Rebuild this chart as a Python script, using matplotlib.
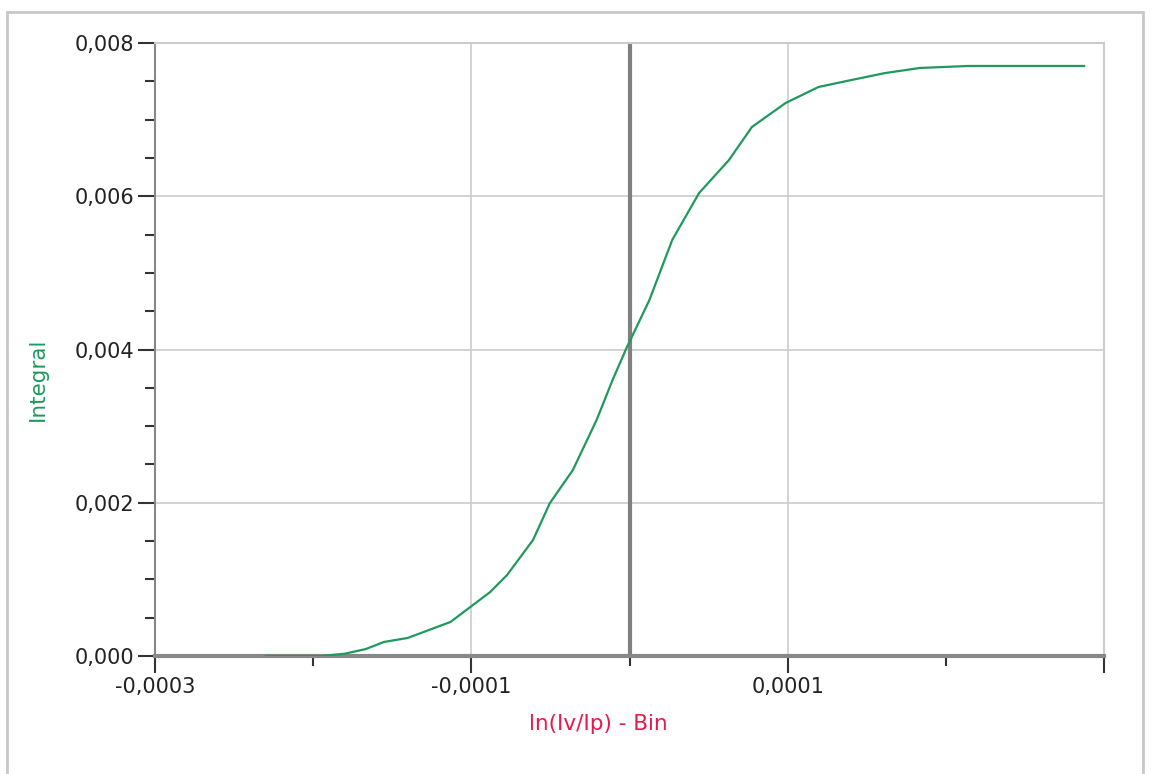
import matplotlib
matplotlib.use("Agg")
import matplotlib.pyplot as plt
import matplotlib.ticker as ticker
from matplotlib.patches import Rectangle

# curve: x in units of 1e-4, y in units of 1e-3
x_e4 = [-2.30, -1.95, -1.80, -1.667, -1.553, -1.403, -1.302, -1.132, -1.006, -0.881,
        -0.774, -0.610, -0.503, -0.358, -0.208, -0.107, -0.019, 0.126, 0.270, 0.440,
        0.629, 0.774, 0.987, 1.195, 1.403, 1.616, 1.836, 2.138, 2.874]
y_e3 = [0.0, 0.0, 0.03, 0.091, 0.183, 0.235, 0.313, 0.444, 0.640, 0.835,
        1.057, 1.514, 1.997, 2.427, 3.080, 3.602, 4.019, 4.646, 5.429, 6.042,
        6.473, 6.904, 7.217, 7.426, 7.517, 7.608, 7.674, 7.700, 7.700]

x_vals = [v * 1e-4 for v in x_e4]
y_vals = [v * 1e-3 for v in y_e3]

x_label = "ln(Iv/Ip) - Bin"
y_label = "Integral"

line_green = "#1f9a5c"
label_red = "#e8194c"

plt.rcParams['font.family'] = ['DejaVu Sans']

fig = plt.figure(figsize=(11.53, 7.74), dpi=100)
ax = fig.add_axes([155/1153, 1 - 656/774, (1104 - 155)/1153, (656 - 43)/774])

# outer frame of the window
fig.patches.append(Rectangle((7/1153, -0.01), (1143 - 7)/1153, 1 - 12/774 + 0.01,
                             transform=fig.transFigure, fill=False,
                             edgecolor="#c8c8c8", linewidth=2.0))

ax.set_xlim(-0.0003, 0.0003)
ax.set_ylim(0, 0.008)

ax.xaxis.set_major_locator(ticker.FixedLocator([-0.0003, -0.0001, 0.0001, 0.0003]))
ax.xaxis.set_minor_locator(ticker.FixedLocator([-0.0002, 0.0, 0.0002]))
ax.yaxis.set_major_locator(ticker.MultipleLocator(0.002))
ax.yaxis.set_minor_locator(ticker.MultipleLocator(0.0005))

def xfmt(v, pos):
    if abs(v - 0.0003) < 1e-9:
        return ""
    return f"{v:.4f}".replace(".", ",")

ax.xaxis.set_major_formatter(ticker.FuncFormatter(xfmt))
ax.yaxis.set_major_formatter(ticker.FuncFormatter(lambda v, p: f"{v:.3f}".replace(".", ",")))

ax.tick_params(axis="both", which="major", length=12, width=1.5, color="#333333",
               labelsize=15, labelcolor="#222222", pad=3)
ax.tick_params(axis="both", which="minor", length=7, width=1.5, color="#333333")

ax.grid(True, which="major", color="#cccccc", linewidth=1.2)
ax.set_axisbelow(True)

for side in ["top", "right"]:
    ax.spines[side].set_color("#cccccc")
    ax.spines[side].set_linewidth(1.5)
ax.spines["left"].set_color("#888888")
ax.spines["left"].set_linewidth(1.5)
ax.spines["bottom"].set_color("#888888")
ax.spines["bottom"].set_linewidth(3)

ax.axvline(0, color="#808080", linewidth=3, zorder=1.5)

ax.plot(x_vals, y_vals, color=line_green, linewidth=1.6, zorder=3)

ax.set_xlabel(x_label, color=label_red, fontsize=15.5)
ax.set_ylabel(y_label, color=line_green, fontsize=15.5)
ax.xaxis.set_label_coords((598 - 155)/(1104 - 155), -(714 - 656)/(656 - 43))
ax.yaxis.set_label_coords(-(155 - 48)/(1104 - 155), (656 - 379)/(656 - 43))

fig.savefig("out.png", dpi=100)
